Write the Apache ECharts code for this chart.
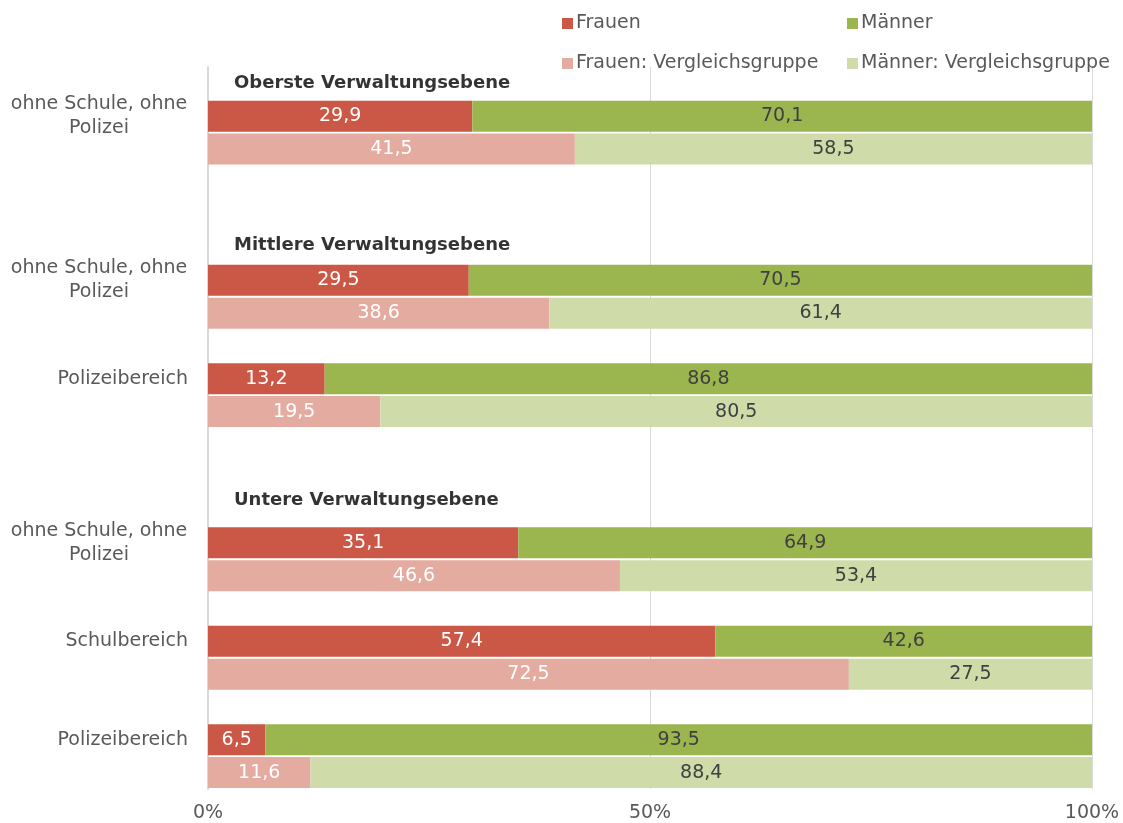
<!DOCTYPE html>
<html>
<head>
<meta charset="utf-8">
<script src="https://cdn.jsdelivr.net/npm/echarts@6/dist/echarts.min.js"></script>
<style>
  html, body { margin: 0; padding: 0; background: #fff; }
  #main { width: 1123px; height: 823px; }
</style>
</head>
<body>
<div id="main"></div>
<script>
// Werte in Prozent
const groups = ['ohne Schule, ohne\nPolizei', 'ohne Schule, ohne\nPolizei', 'Polizeibereich',
  'ohne Schule, ohne\nPolizei', 'Schulbereich', 'Polizeibereich']
const frauen = [29.9, 29.5, 13.2, 35.1, 57.4, 6.5]
const maenner = [70.1, 70.5, 86.8, 64.9, 42.6, 93.5]
const frauenVG = [41.5, 38.6, 19.5, 46.6, 72.5, 11.6]
const maennerVG = [58.5, 61.4, 80.5, 53.4, 27.5, 88.4]
const headings = ['Oberste Verwaltungsebene', 'Mittlere Verwaltungsebene', 'Untere Verwaltungsebene']
const xTicks = [0, 50, 100]

// Zeilen-Layout: Hauptbalken, darunter Vergleichsgruppe, Leerzeilen für Überschriften
const slotCount = 22
const mainSlots = [1, 6, 9, 14, 17, 20]
const headingSlots = [0, 5, 13]
const headingShift = [0, -2, -10]

const font = '"DejaVu Sans", sans-serif'
const fs = 19
const grey = '#595959'

let cats = new Array(slotCount).fill('')
let sFrauen = new Array(slotCount).fill('-')
let sMaenner = new Array(slotCount).fill('-')
let sFrauenVG = new Array(slotCount).fill('-')
let sMaennerVG = new Array(slotCount).fill('-')
mainSlots.forEach((s, i) => {
  cats[s] = groups[i]
  sFrauen[s] = frauen[i]
  sMaenner[s] = maenner[i]
  sFrauenVG[s + 1] = frauenVG[i]
  sMaennerVG[s + 1] = maennerVG[i]
})

const fmt = p => Number(p.value).toFixed(1).replace('.', ',')

function barSeries(name, data, color, labelColor) {
  return {
    name: name,
    type: 'bar',
    stack: 'all',
    barWidth: 31,
    data: data,
    itemStyle: { color: color },
    label: {
      show: true,
      position: 'inside',
      color: labelColor,
      fontFamily: font,
      fontSize: fs,
      formatter: fmt
    },
    emphasis: { disabled: true }
  }
}

function legendAt(name, left, top) {
  return {
    data: [name],
    left: left,
    top: top,
    icon: 'rect',
    itemWidth: 11,
    itemHeight: 11,
    selectedMode: false,
    textStyle: { color: grey, fontFamily: font, fontSize: fs, padding: [0, 0, 0, -2] }
  }
}

let chart = echarts.init(document.getElementById('main'))
let option = {
  animation: false,
  textStyle: { fontFamily: font },
  legend: [
    legendAt('Frauen', 557, 9),
    legendAt('Männer', 842, 9),
    legendAt('Frauen: Vergleichsgruppe', 557, 49),
    legendAt('Männer: Vergleichsgruppe', 842, 49)
  ],
  grid: { left: 208, right: 31, top: 67, bottom: 34, containLabel: false },
  xAxis: {
    type: 'value',
    min: xTicks[0],
    max: xTicks[xTicks.length - 1],
    interval: xTicks[1] - xTicks[0],
    axisLine: { show: false },
    axisTick: { show: false },
    splitLine: { lineStyle: { color: '#d9d9d9', width: 1 } },
    axisLabel: { color: grey, fontFamily: font, fontSize: fs, margin: 15, formatter: '{value}%' }
  },
  yAxis: {
    type: 'category',
    inverse: true,
    data: cats,
    axisLine: { show: true, lineStyle: { color: '#d9d9d9', width: 2 } },
    axisTick: { show: false },
    axisLabel: {
      color: grey,
      fontFamily: font,
      fontSize: fs,
      margin: 20,
      lineHeight: 24,
      formatter: v => v.indexOf('\n') >= 0
        ? v.split('\n').map(l => '{c|' + l + '}').join('\n')
        : v,
      rich: {
        c: { width: 178, align: 'center', color: grey, fontFamily: font, fontSize: fs, lineHeight: 24 }
      }
    }
  },
  series: [
    barSeries('Frauen', sFrauen, '#CB5846', '#ffffff'),
    barSeries('Männer', sMaenner, '#9BB64F', '#404040'),
    barSeries('Frauen: Vergleichsgruppe', sFrauenVG, '#E4ABA1', '#ffffff'),
    barSeries('Männer: Vergleichsgruppe', sMaennerVG, '#CFDCA9', '#404040'),
    {
      name: 'headings',
      type: 'scatter',
      symbolSize: 0,
      silent: true,
      data: headingSlots.map((s, i) => ({
        value: [0, s],
        name: headings[i],
        label: { offset: [0, headingShift[i]] }
      })),
      label: {
        show: true,
        position: 'right',
        distance: 26,
        formatter: p => p.name,
        color: '#000000',
        fontFamily: font,
        fontWeight: 'bold',
        fontSize: 18
      }
    }
  ]
}
chart.setOption(option)
</script>
</body>
</html>
